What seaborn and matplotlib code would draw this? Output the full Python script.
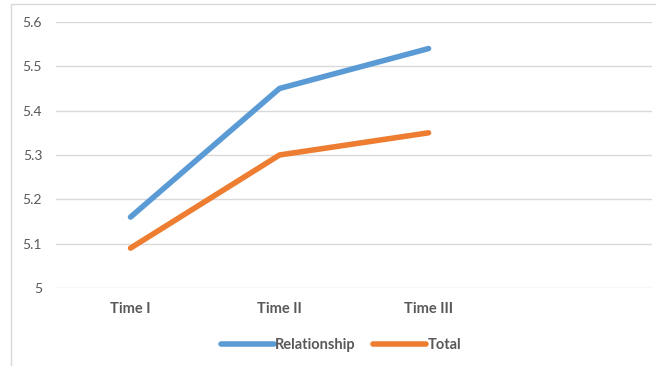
import pandas as pd
import numpy as np
import matplotlib.pyplot as plt
import seaborn as sns
from matplotlib.ticker import FuncFormatter
from matplotlib.patches import Rectangle

# ------------------------------
# Data
# ------------------------------
times = ["Time I", "Time II", "Time III"]
relationship = [5.16, 5.45, 5.54]
total = [5.09, 5.30, 5.35]

df = pd.DataFrame({
    "Time": times * 2,
    "Score": relationship + total,
    "Series": ["Relationship"] * 3 + ["Total"] * 3,
})

sns.set_theme(style="white")
plt.rcParams["font.family"] = ["Lato", "DejaVu Sans"]

fig = plt.figure(figsize=(6.56, 3.66), dpi=100)
ax = fig.add_axes([0.0854, 0.2131, 0.9086, 0.7269])

sns.lineplot(data=df, x="Time", y="Score", hue="Series",
             palette=["#5B9BD5", "#ED7D31"], linewidth=4,
             ax=ax, legend=False)
for ln in ax.get_lines():
    ln.set_solid_capstyle("round")
    ln.set_solid_joinstyle("round")

# empty fourth category slot, like the original
ax.set_xlim(-0.5, 3.5)
ax.set_ylim(5.0, 5.6)
ax.set_yticks(np.arange(5.0, 5.61, 0.1))
ax.yaxis.set_major_formatter(FuncFormatter(lambda v, p: f"{v:g}"))
ax.grid(axis="y", color="#D9D9D9", linewidth=1)
ax.set_axisbelow(True)
for s in ax.spines.values():
    s.set_visible(False)
ax.set_xlabel("")
ax.set_ylabel("")
ax.tick_params(axis="y", labelsize=10, colors="#595959", length=0, pad=10)
ax.tick_params(axis="x", labelsize=10.5, colors="#595959", length=0, pad=10)
for t in ax.get_xticklabels():
    t.set_fontweight("bold")

# legend
handles = [plt.Line2D([], [], color="#5B9BD5", lw=4, solid_capstyle="round"),
           plt.Line2D([], [], color="#ED7D31", lw=4, solid_capstyle="round")]
leg = fig.legend(handles, ["Relationship", "Total"], loc="center",
                 bbox_to_anchor=(0.52, 0.057), ncol=2, frameon=False,
                 handlelength=3.6, handletextpad=0.1, columnspacing=1.2,
                 prop={"weight": "bold", "size": 10.5})
for t in leg.get_texts():
    t.set_color("#595959")

# chart border
fig.patches.append(Rectangle((11 / 656, -0.01), 1.0, 1 - 4 / 366 + 0.01,
                             transform=fig.transFigure, fill=False,
                             edgecolor="#D9D9D9", linewidth=1))

fig.savefig("out.png", dpi=100)
